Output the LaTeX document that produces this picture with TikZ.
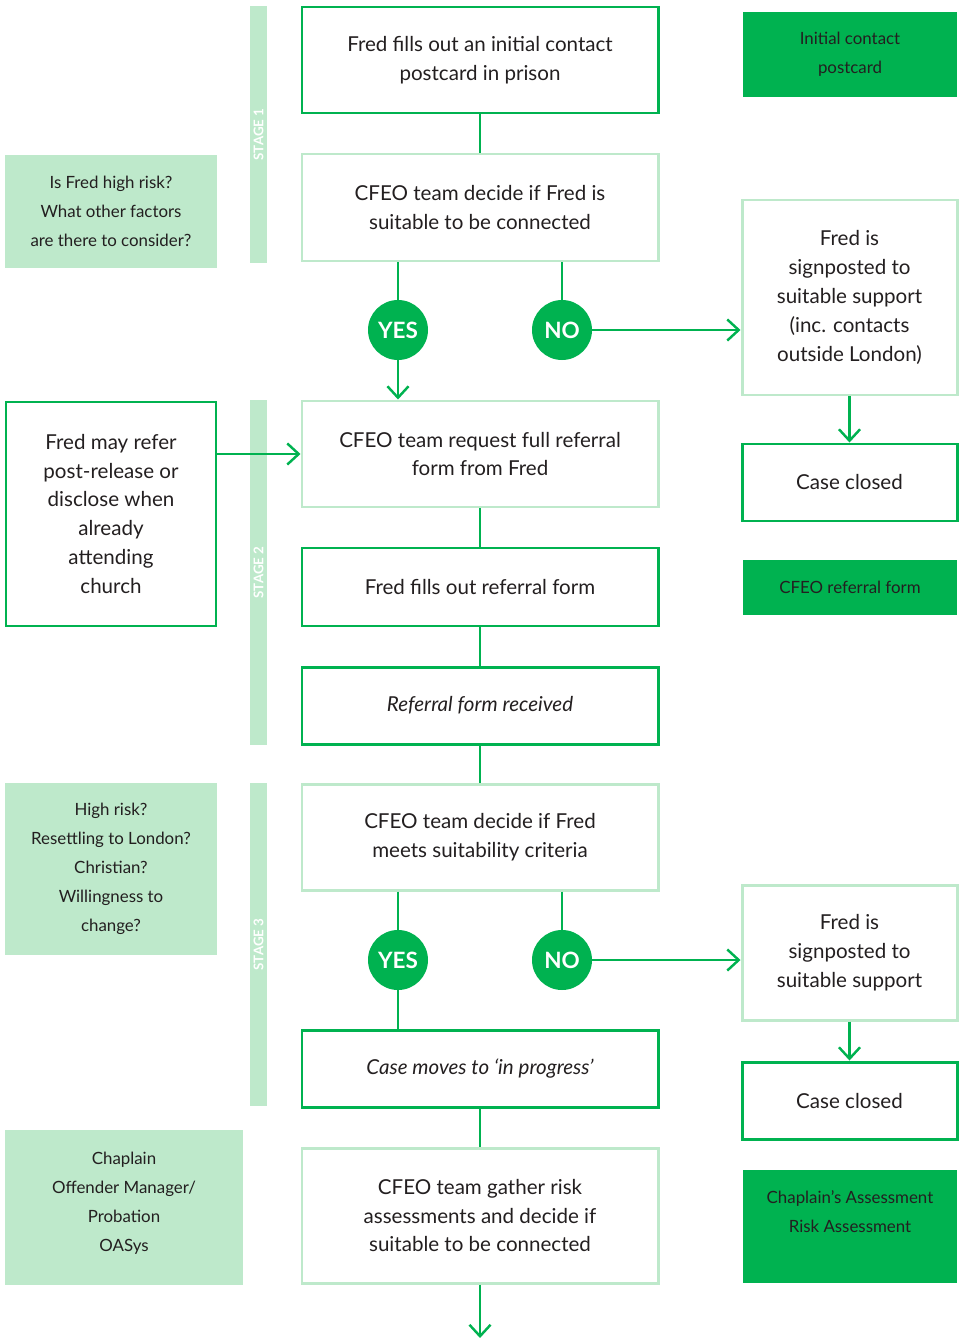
\documentclass[tikz,border=0pt]{standalone}
\usepackage{fontspec}
\setmainfont{Lato}
\usepackage{tikz}
\usetikzlibrary{arrows.meta}
\definecolor{cfeogreen}{RGB}{0,178,80}
\definecolor{palegreen}{RGB}{190,233,203}
\definecolor{inkgrey}{RGB}{35,31,32}
\newcommand{\pxl}{0.02cm}
\tikzset{
  darkbox/.style={draw=cfeogreen, line width=1.7pt, fill=white, align=center, text=inkgrey,
    font=\fontsize{11.7}{16.5}\selectfont, minimum width=356*\pxl, inner sep=2pt},
  lightbox/.style={darkbox, draw=palegreen},
  tagbox/.style={fill=cfeogreen, text=inkgrey, align=center, font=\fontsize{9.6}{16.5}\selectfont,
    minimum width=214*\pxl},
  notebox/.style={fill=palegreen, text=inkgrey, align=center, font=\fontsize{9.6}{16.5}\selectfont},
  yesno/.style={circle, fill=cfeogreen, text=white, font=\fontsize{12.8}{13}\selectfont\bfseries,
    minimum size=60*\pxl, inner sep=0pt},
  stagebar/.style={fill=palegreen, text=white, font=\fontsize{7.6}{8}\selectfont\bfseries,
    minimum height=17*\pxl, inner sep=0pt, rotate=90},
  link/.style={draw=cfeogreen, line width=1.4pt},
  arrowlink/.style={link, -{Straight Barb[length=6.5pt,width=12pt,line width=1.4pt]}}
}
\begin{document}
\begin{tikzpicture}[x=\pxl, y=-\pxl]
  \useasboundingbox (0,0) rectangle (962,1338);
  \node[stagebar, minimum width=257*\pxl] (stageone) at (258.5,134.5) {STAGE 1};
  \node[stagebar, minimum width=345*\pxl] (stagetwo) at (258.5,572.5) {STAGE 2};
  \node[stagebar, minimum width=323*\pxl] (stagethree) at (258.5,944.5) {STAGE 3};

  \node[darkbox, minimum height=106*\pxl] (fredpostcard) at (480,60) {Fred fills out an initial contact\\postcard in prison};
  \node[lightbox, minimum height=107*\pxl] (suitcheck) at (480,207.5) {CFEO team decide if Fred is\\suitable to be connected};
  \node[yesno] (yesone) at (398,330) {YES};
  \node[yesno] (noone) at (562,330) {NO};
  \node[lightbox, minimum width=215*\pxl, minimum height=195*\pxl] (signone) at (849.5,297.5) {Fred is\\signposted to\\suitable support\\(inc. contacts\\outside London)};
  \node[darkbox, minimum width=215*\pxl, minimum height=77*\pxl] (closedone) at (849.5,482.5) {Case closed};
  \node[lightbox, minimum height=106*\pxl] (requestform) at (480,454) {CFEO team request full referral\\form from Fred};
  \node[darkbox, minimum width=210*\pxl, minimum height=224*\pxl] (mayrefer) at (111,514) {Fred may refer\\post-release or\\disclose when\\already\\attending\\church};
  \node[darkbox, minimum height=78*\pxl] (fillsform) at (480,587) {Fred fills out referral form};
  \node[darkbox, minimum height=77*\pxl, font=\fontsize{11.7}{16.5}\selectfont\itshape] (formreceived) at (480,705.5) {Referral form received};
  \node[lightbox, minimum height=106*\pxl] (criteria) at (480,837) {CFEO team decide if Fred\\meets suitability criteria};
  \node[yesno] (yestwo) at (398,960) {YES};
  \node[yesno] (notwo) at (562,960) {NO};
  \node[lightbox, minimum width=215*\pxl, minimum height=135*\pxl] (signtwo) at (849.5,952.5) {Fred is\\signposted to\\suitable support};
  \node[darkbox, minimum width=215*\pxl, minimum height=77*\pxl] (closedtwo) at (849.5,1100.5) {Case closed};
  \node[darkbox, minimum height=77*\pxl, font=\fontsize{11.7}{16.5}\selectfont\itshape] (inprogress) at (480,1068.5) {Case moves to ‘in progress’};
  \node[lightbox, minimum height=135*\pxl] (gatherrisk) at (480,1215.5) {CFEO team gather risk\\assessments and decide if\\suitable to be connected};
  \coordinate (onward) at (480,1338);

  \node[tagbox, minimum height=85*\pxl] (postcardtag) at (850,54.5) {Initial contact\\postcard};
  \node[tagbox, minimum height=55*\pxl] (formtag) at (850,587.5) {CFEO referral form};
  \node[tagbox, minimum height=113*\pxl] (assesstag) at (850,1226.5) {Chaplain’s Assessment\\Risk Assessment\\ };
  \node[notebox, minimum width=212*\pxl, minimum height=113*\pxl] (risknote) at (111,211.5) {Is Fred high risk?\\What other factors\\are there to consider?};
  \node[notebox, minimum width=212*\pxl, minimum height=172*\pxl] (criterianote) at (111,869) {High risk?\\Resettling to London?\\Christian?\\Willingness to\\change?};
  \node[notebox, minimum width=238*\pxl, minimum height=155*\pxl, text depth=7pt] (contactnote) at (124,1207.5) {Chaplain\\Offender Manager/\\Probation\\OASys};

  \draw[link] (fredpostcard) -- (suitcheck);
  \draw[link] (suitcheck.south -| yesone) -- (yesone);
  \draw[link] (suitcheck.south -| noone) -- (noone);
  \draw[arrowlink] (yesone) -- (requestform.north -| yesone);
  \draw[arrowlink] (noone) -- (noone -| signone.west);
  \draw[arrowlink] (signone) -- (closedone);
  \draw[arrowlink] (mayrefer.east |- requestform) -- (requestform);
  \draw[link] (requestform) -- (fillsform);
  \draw[link] (fillsform) -- (formreceived);
  \draw[link] (formreceived) -- (criteria);
  \draw[link] (criteria.south -| yestwo) -- (yestwo);
  \draw[link] (criteria.south -| notwo) -- (notwo);
  \draw[link] (yestwo) -- (inprogress.north -| yestwo);
  \draw[arrowlink] (notwo) -- (notwo -| signtwo.west);
  \draw[arrowlink] (signtwo) -- (closedtwo);
  \draw[link] (inprogress) -- (gatherrisk);
  \draw[arrowlink] (gatherrisk) -- (onward);
\end{tikzpicture}
\end{document}
